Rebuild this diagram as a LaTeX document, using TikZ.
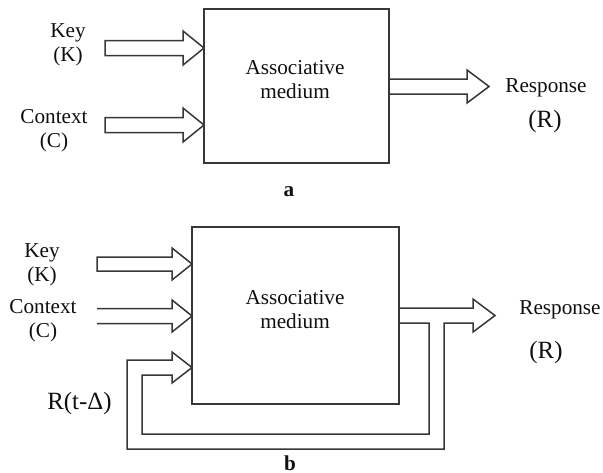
\documentclass[tikz,border=0pt]{standalone}
\usepackage{fontspec}
\setmainfont{Liberation Serif}
\usetikzlibrary{positioning, calc}
\definecolor{WireGray}{RGB}{55, 55, 55}
\definecolor{InkBlack}{RGB}{15, 15, 15}
\tikzset{
  medium/.style={draw=WireGray, line width=0.75pt, inner sep=0pt, outer sep=0pt},
  fatarrow/.style={draw=WireGray, line width=0.75pt, line join=miter},
  lbl/.style={font=\fontsize{10.6}{12}\selectfont, text=InkBlack, inner sep=0pt, align=center},
  biglbl/.style={font=\fontsize{12.4}{14}\selectfont, text=InkBlack, inner sep=0pt},
  tag/.style={font=\fontsize{10.6}{12}\selectfont\bfseries, text=InkBlack, inner sep=0pt}
}

\begin{document}
\begin{tikzpicture}[x=0.5pt, y=-0.5pt]
    \useasboundingbox (0,0) rectangle (603,472);

    % ---------- (a) plain associative medium ----------
    \node[medium, minimum width=92.5pt, minimum height=77pt] (boxA) at (296.5,86) {};
    \node[lbl] (medA) at (295,80) {Associative\\medium};

    % Key input
    \draw[fatarrow] (boxA.west |- 0,48) -- (183,31) -- (183,40.5) -- (105,40.5)
        -- (105,55.5) -- (183,55.5) -- (183,65) -- cycle;
    \node[lbl] (keyA) at (68,45) {Key\\(K)};

    % Context input
    \draw[fatarrow] (boxA.west |- 0,125) -- (183,108) -- (183,117.5) -- (105,117.5)
        -- (105,132.5) -- (183,132.5) -- (183,142) -- cycle;
    \node[lbl] (ctxA) at (54,130.5) {Context\\(C)};

    % Response output
    \draw[fatarrow] (boxA.east |- 0,79) -- (467,79) -- (467,70) -- (489,86.5)
        -- (467,103) -- (467,94) -- (boxA.east |- 0,94);
    \node[lbl] (respA) at (546,88) {Response};
    \node[biglbl] (rA) at (545,122) {(R)};

    \node[tag] (tagA) at (289,192) {a};

    % ---------- (b) medium with feedback ----------
    \node[medium, minimum width=103.5pt, minimum height=88.5pt] (boxB) at (295.5,315.5) {};
    \node[lbl] (medB) at (295,309.5) {Associative\\medium};

    % Key input
    \draw[fatarrow] (boxB.west |- 0,264) -- (172,248) -- (172,257) -- (97,257)
        -- (97,271) -- (172,271) -- (172,280) -- cycle;
    \node[lbl] (keyB) at (42,265) {Key\\(K)};

    % Context input (open tail)
    \draw[fatarrow] (97,308.5) -- (172,308.5) -- (172,300) -- (boxB.west |- 0,316)
        -- (172,332) -- (172,323.5) -- (97,323.5);
    \node[lbl] (ctxB) at (43,320.5) {Context\\(C)};

    % Response output folded back as R(t-Delta)
    \draw[fatarrow] (boxB.east |- 0,308) -- (473,308) -- (473,299) -- (495,315.5)
        -- (473,332) -- (473,323) -- (444,323) -- (444,449) -- (127,449)
        -- (127,360) -- (172,360) -- (172,352) -- (boxB.west |- 0,367.5)
        -- (172,383) -- (172,375) -- (142,375) -- (142,434) -- (429,434)
        -- (429,323) -- (boxB.east |- 0,323);
    \node[lbl] (respB) at (560,310) {Response};
    \node[biglbl] (rB) at (546,353) {(R)};
    \node[biglbl] (delayB) at (79.5,404) {R(t-Δ)};

    \node[tag] (tagB) at (290,463) {b};
\end{tikzpicture}
\end{document}
